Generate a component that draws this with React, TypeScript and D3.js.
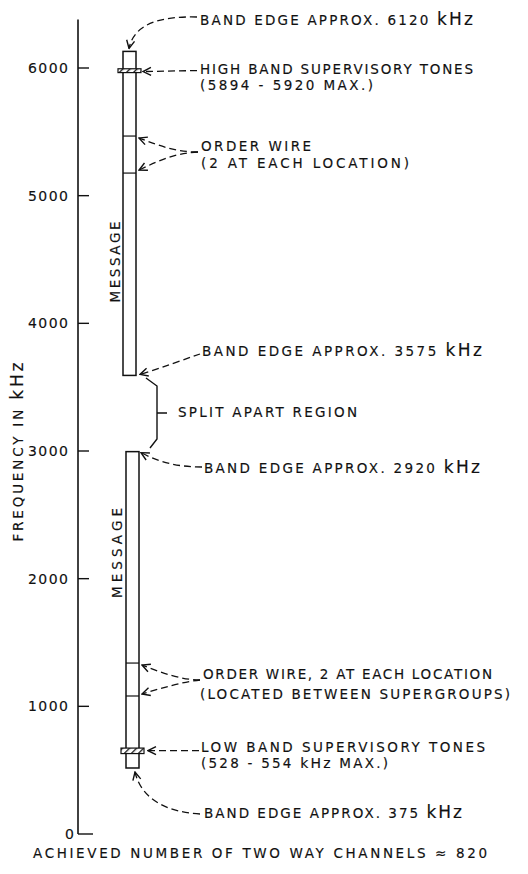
import React from "react";
import * as d3 from "d3";

// ---- data (kHz) ----
const yTicks = [0, 1000, 2000, 3000, 4000, 5000, 6000];
const bandTops = [6130, 2995];
const bandBottoms = [3592, 517];
const orderWires = [5467, 5177, 1339, 1081];
const orderWireBand = [0, 0, 1, 1];
const toneLows = [5964, 630];
const toneHighs = [5994, 673];
const axisMax = 6380;

const edgeLabels = ["6120", "3575", "2920", "375"];

const W = 528;
const H = 874;
const FONT = "'DejaVu Sans', 'Liberation Sans', sans-serif";
const FS = 13.5;

export default function App() {
  const y = d3.scaleLinear().domain([0, 6000]).range([834, 68]);
  const axisX = 78;
  const barLeft = [123, 126];
  const barW = 13;

  const txtStyle = { fill: "#111", stroke: "#111", strokeWidth: 0.15 } as const;

  const T = (
    props: { x: number; y: number; len: number; size?: number; anchor?: string },
    children: React.ReactNode
  ) => (
    <text
      x={props.x}
      y={props.y}
      textLength={props.len}
      lengthAdjust="spacing"
      fontSize={props.size ?? FS}
      fontFamily={FONT}
      textAnchor={props.anchor ?? "start"}
      {...txtStyle}
    >
      {children}
    </text>
  );

  const kHz = (sz = 17) => <tspan fontSize={sz}>kHz</tspan>;

  const lead = { fill: "none", stroke: "#111", strokeWidth: 1.3, strokeDasharray: "7,4", markerEnd: "url(#arr)" } as const;

  return (
    <svg width={W} height={H} style={{ position: "absolute", left: 0, top: 0, background: "#fff" }}>
      <defs>
        <marker id="arr" viewBox="0 0 10 10" refX="9" refY="5" markerWidth="10" markerHeight="10" markerUnits="userSpaceOnUse" orient="auto">
          <path d="M1,1 L9,5 L1,9" fill="none" stroke="#111" strokeWidth={1.4} />
        </marker>
        <pattern id="hatch" width="5" height="5" patternUnits="userSpaceOnUse" patternTransform="rotate(45)">
          <rect width="5" height="5" fill="#fff" />
          <line x1="0" y1="0" x2="0" y2="5" stroke="#111" strokeWidth={2.6} />
        </pattern>
      </defs>

      {/* axis */}
      <line x1={axisX} x2={axisX} y1={y(axisMax)} y2={y(0)} stroke="#111" strokeWidth={1.6} />
      <line x1={axisX} x2={axisX + 15} y1={y(0)} y2={y(0)} stroke="#111" strokeWidth={1.4} />
      {yTicks.filter((t) => t > 0).map((t) => (
        <line key={t} x1={axisX} x2={axisX + 11} y1={y(t)} y2={y(t)} stroke="#111" strokeWidth={1.4} />
      ))}
      {yTicks.map((t) => (
        <text
          key={"l" + t}
          x={t === 0 ? 74 : 68}
          y={y(t) + 5}
          textAnchor="end"
          fontSize={14}
          fontFamily={FONT}
          textLength={t === 0 ? 9 : 40}
          lengthAdjust="spacing"
          {...txtStyle}
        >
          {t}
        </text>
      ))}
      <text
        transform={`translate(23,452) rotate(-90)`}
        textAnchor="middle"
        fontSize={FS}
        fontFamily={FONT}
        textLength={179}
        lengthAdjust="spacing"
        {...txtStyle}
      >
        FREQUENCY IN <tspan fontSize={17}>kHz</tspan>
      </text>

      {/* bars */}
      {bandTops.map((top, i) => (
        <rect
          key={"b" + i}
          x={barLeft[i]}
          y={y(top)}
          width={barW}
          height={y(bandBottoms[i]) - y(top)}
          fill="#fff"
          stroke="#111"
          strokeWidth={1.5}
        />
      ))}
      {orderWires.map((f, i) => (
        <line
          key={"o" + i}
          x1={barLeft[orderWireBand[i]]}
          x2={barLeft[orderWireBand[i]] + barW}
          y1={y(f)}
          y2={y(f)}
          stroke="#111"
          strokeWidth={1.2}
        />
      ))}
      {toneLows.map((lo, i) => (
        <rect
          key={"t" + i}
          x={barLeft[i] - 5}
          y={y(toneHighs[i])}
          width={barW + 10}
          height={y(lo) - y(toneHighs[i])}
          fill="url(#hatch)"
          stroke="#111"
          strokeWidth={1.2}
        />
      ))}

      {/* MESSAGE labels */}
      <text transform={`translate(120,262) rotate(-90)`} textAnchor="middle" fontSize={FS} fontFamily={FONT} textLength={81} lengthAdjust="spacing" {...txtStyle}>
        MESSAGE
      </text>
      <text transform={`translate(122,553) rotate(-90)`} textAnchor="middle" fontSize={FS} fontFamily={FONT} textLength={90} lengthAdjust="spacing" {...txtStyle}>
        MESSAGE
      </text>

      {/* leaders */}
      <path d={`M197,17 C160,16 134,24 129,${y(bandTops[0]) - 3}`} {...lead} />
      <path d={`M197,${y(5980)} L143,${y(5980) + 1}`} {...lead} />
      <path d={`M198,152 C176,152 160,146 139,${y(orderWires[0]) + 2}`} {...lead} />
      <path d={`M198,152 C176,153 160,160 139,${y(orderWires[1]) - 3}`} {...lead} />
      <path d={`M200,354 C182,360 162,368 140,${y(bandBottoms[0]) - 1}`} {...lead} />
      <path d={`M202,467 C180,467 160,463 141,${y(bandTops[1]) + 1}`} {...lead} />
      <path d={`M200,680 C182,680 162,673 142,${y(orderWires[2]) + 2}`} {...lead} />
      <path d={`M200,680 C182,682 162,688 142,${y(orderWires[3]) - 2}`} {...lead} />
      <path d={`M199,${y(653)} L148,${y(653)}`} {...lead} />
      <path d={`M200,814 C165,812 141,798 135,${y(bandBottoms[1]) + 4}`} {...lead} />

      {/* brace */}
      <path d="M146,378 L157,386 L157,439 L150,448 M157,413 L167,413" fill="none" stroke="#111" strokeWidth={1.4} />

      {/* annotation texts */}
      {T({ x: 200, y: 25, len: 273 }, <>BAND EDGE APPROX. {edgeLabels[0]} {kHz()}</>)}
      {T({ x: 200, y: 74, len: 273 }, "HIGH BAND SUPERVISORY TONES")}
      {T({ x: 200, y: 90, len: 173 }, "(5894 - 5920 MAX.)")}
      {T({ x: 201, y: 151, len: 110 }, "ORDER WIRE")}
      {T({ x: 201, y: 168, len: 208 }, "(2 AT EACH LOCATION)")}
      {T({ x: 202, y: 356, len: 280 }, <>BAND EDGE APPROX. {edgeLabels[1]} {kHz()}</>)}
      {T({ x: 178, y: 417, len: 179 }, "SPLIT APART REGION")}
      {T({ x: 204, y: 473, len: 276 }, <>BAND EDGE APPROX. {edgeLabels[2]} {kHz()}</>)}
      {T({ x: 203, y: 679, len: 289 }, "ORDER WIRE, 2 AT EACH LOCATION")}
      {T({ x: 200, y: 699, len: 310 }, "(LOCATED BETWEEN SUPERGROUPS)")}
      {T({ x: 201, y: 752, len: 284 }, "LOW BAND SUPERVISORY TONES")}
      {T({ x: 201, y: 768, len: 187 }, <>(528 - 554 {kHz(14)} MAX.)</>)}
      {T({ x: 204, y: 818, len: 258 }, <>BAND EDGE APPROX. {edgeLabels[3]} {kHz()}</>)}
      {T({ x: 33, y: 858, len: 454 }, "ACHIEVED NUMBER OF TWO WAY CHANNELS ≈ 820")}
    </svg>
  );
}
